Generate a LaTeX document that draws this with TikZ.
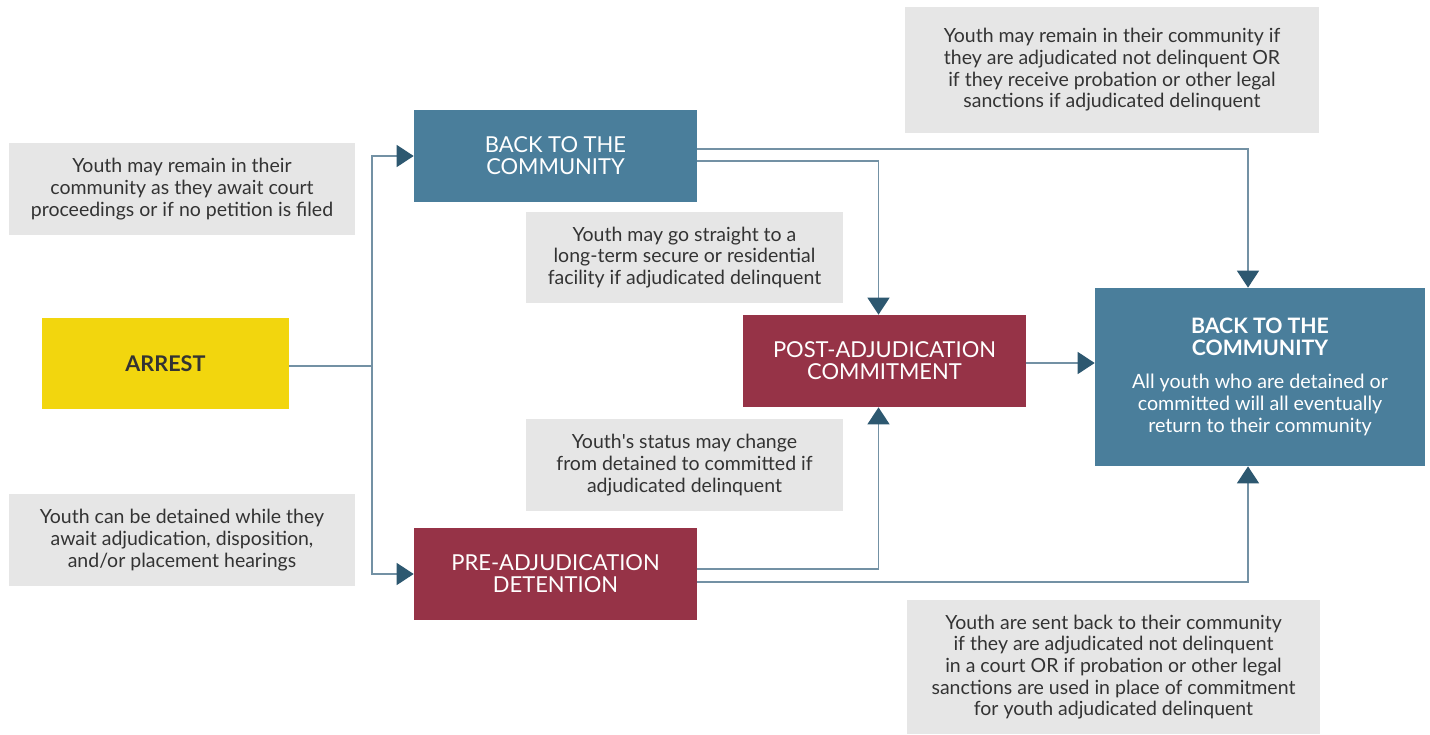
\documentclass[tikz,border=0pt]{standalone}
\usepackage{fontspec}
\setmainfont{Lato}
\usetikzlibrary{positioning, arrows.meta, calc}
\definecolor{steel}{HTML}{4A7E9B}
\definecolor{wine}{HTML}{963347}
\definecolor{sun}{HTML}{F2D60E}
\definecolor{fog}{HTML}{E6E6E6}
\definecolor{ink}{HTML}{333333}
\definecolor{wire}{HTML}{7391A4}
\definecolor{tip}{HTML}{2D5870}
\newcommand{\headline}[1]{{\bfseries\fontsize{12.1}{12.4}\selectfont #1}}

\begin{document}
\begin{tikzpicture}[x=0.02cm, y=-0.02cm,
    stage/.style={minimum width=5.66cm, minimum height=1.84cm, inner sep=0pt,
      align=center, text=white, font=\fontsize{12.5}{12.4}\selectfont},
    note/.style={fill=fog, text=ink, inner sep=0pt, align=center,
      font=\fontsize{11.1}{12.3}\selectfont},
    link/.style={wire, line width=0.85pt},
    flow/.style={link, -{Triangle[width=0.44cm, length=0.34cm, color=tip]}}]
        \useasboundingbox (0,0) rectangle (1430,734);
        % stages
        \node[stage, fill=sun, text=ink, minimum width=4.94cm, minimum height=1.82cm,
          font=\bfseries\fontsize{12.3}{12.4}\selectfont] (arrest) at (165.5,363.5) {ARREST};
        \node[stage, fill=steel] (home) at (555.5,156) {BACK TO THE\\COMMUNITY};
        \node[stage, fill=wine] (pre) at (555.5,574) {PRE-ADJUDICATION\\DETENTION};
        \node[stage, fill=wine] (post) at (884.5,361) {POST-ADJUDICATION\\COMMITMENT};
        \node[stage, fill=steel, minimum width=6.6cm, minimum height=3.56cm,
          font=\fontsize{11.2}{12.5}\selectfont] (return) at (1260,377)
          {\headline{BACK TO THE}\\\headline{COMMUNITY}\\[6pt]
           All youth who are detained or\\committed will all eventually\\return to their community};
        % notes
        \node[note, minimum width=6.92cm, minimum height=1.84cm] (waitnote) at (182,189)
          {Youth may remain in their\\community as they await court\\proceedings or if no petition is filed};
        \node[note, minimum width=6.92cm, minimum height=1.84cm] (holdnote) at (182,540)
          {Youth can be detained while they\\await adjudication, disposition,\\and/or placement hearings};
        \node[note, minimum width=6.34cm, minimum height=1.82cm] (directnote) at (684.5,257.5)
          {Youth may go straight to a\\long-term secure or residential\\facility if adjudicated delinquent};
        \node[note, minimum width=6.34cm, minimum height=1.84cm] (statusnote) at (684.5,465)
          {Youth\textquotesingle s status may change\\from detained to committed if\\adjudicated delinquent};
        \node[note, minimum width=8.28cm, minimum height=2.52cm] (staynote) at (1112,70)
          {Youth may remain in their community if\\they are adjudicated not delinquent OR\\if they receive probation or other legal\\sanctions if adjudicated delinquent};
        \node[note, minimum width=8.26cm, minimum height=2.68cm] (sentnote) at (1113.5,667)
          {Youth are sent back to their community\\if they are adjudicated not delinquent\\in a court OR if probation or other legal\\sanctions are used in place of commitment\\for youth adjudicated delinquent};
        % connectors
        \coordinate (fork) at (372,366);
        \draw[link] (arrest.east |- fork) -- (fork);
        \draw[flow] (fork) |- (home.west);
        \draw[flow] (fork) |- (pre.west);
        \draw[flow] ($(home.east)+(0,5)$) -| ($(post.north)+(-6,0)$);
        \draw[flow] ($(home.east)+(0,-7)$) -| ($(return.north)+(-12,0)$);
        \draw[flow] ($(pre.east)+(0,-5)$) -| ($(post.south)+(-6,0)$);
        \draw[flow] ($(pre.east)+(0,8)$) -| ($(return.south)+(-12,0)$);
        \draw[flow] ($(post.east)+(0,2)$) -- ($(return.west |- post.east)+(0,2)$);
      \end{tikzpicture}
\end{document}
